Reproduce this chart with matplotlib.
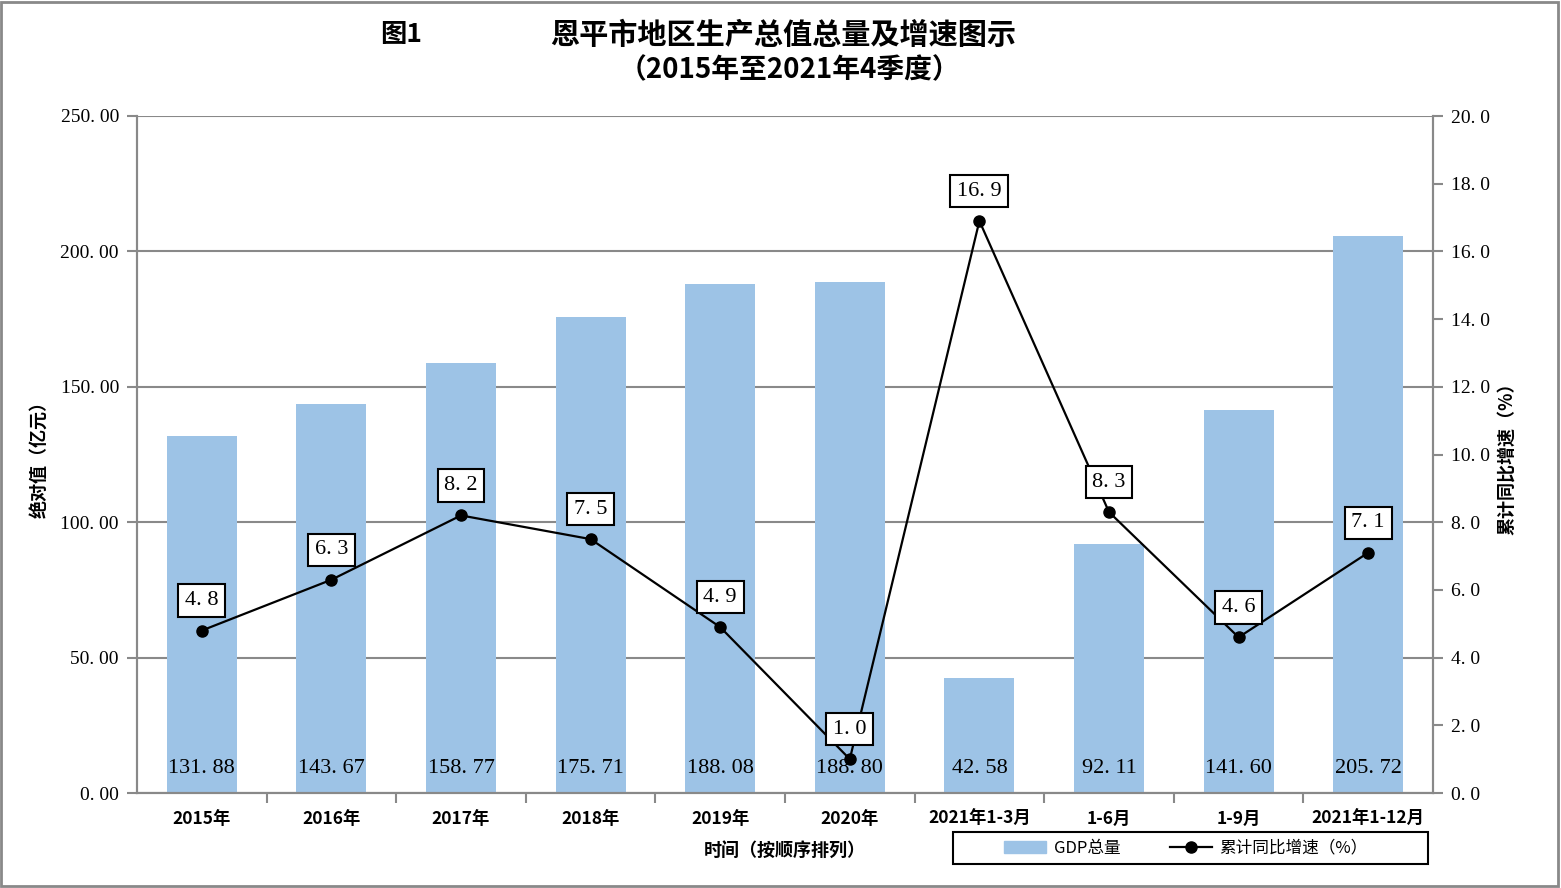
import matplotlib
matplotlib.use("Agg")
import matplotlib.pyplot as plt
from matplotlib.patches import Rectangle
from matplotlib.lines import Line2D
from matplotlib.patches import Patch
from matplotlib.transforms import offset_copy

categories = ["2015年", "2016年", "2017年", "2018年", "2019年", "2020年",
              "2021年1-3月", "1-6月", "1-9月", "2021年1-12月"]
gdp = [131.88, 143.67, 158.77, 175.71, 188.08, 188.80, 42.58, 92.11, 141.60, 205.72]
growth = [4.8, 6.3, 8.2, 7.5, 4.9, 1.0, 16.9, 8.3, 4.6, 7.1]
left_ticks = [0, 50, 100, 150, 200, 250]
right_ticks = [0, 2, 4, 6, 8, 10, 12, 14, 16, 18, 20]

CJK = ["Noto Sans CJK SC", "DejaVu Sans"]
SERIF = ["Liberation Serif", "DejaVu Serif"]
GRAY = "#898989"
BAR = "#9DC3E6"


def fmt(v, n):
    return f"{v:.{n}f}".replace(".", ". ")


fig = plt.figure(figsize=(15.61, 8.88), dpi=100)
ax = fig.add_axes([137/1561, 1-793/888, (1433-137)/1561, (793-116)/888])
ax2 = ax.twinx()

x = list(range(len(categories)))
ax.bar(x, gdp, width=0.54, color=BAR, zorder=2)
ax.set_xlim(-0.5, len(categories) - 0.5)
ax.set_ylim(0, 250)
ax.set_yticks(left_ticks)
ax.set_yticklabels([fmt(v, 2) for v in left_ticks], family=SERIF, fontsize=14)
ax.yaxis.grid(True, color=GRAY, linewidth=1.5, zorder=0)
ax.set_axisbelow(True)
ax.set_xticks(x)
ax.set_xticklabels(categories, family=CJK, fontsize=12.5, fontweight="bold")
ax.set_xticks([i + 0.5 for i in x[:-1]], minor=True)
ax.tick_params(axis="x", which="major", length=0, pad=12)
ax.tick_params(axis="x", which="minor", length=7, width=1.5, color=GRAY)
ax.tick_params(axis="y", length=7, width=1.5, color=GRAY, pad=6)
for s in ["top"]:
    ax.spines[s].set_visible(False)
    ax2.spines[s].set_visible(False)
for s in ["left", "bottom", "right"]:
    ax.spines[s].set_color(GRAY)
    ax.spines[s].set_linewidth(1.5)
    ax2.spines[s].set_color(GRAY)
    ax2.spines[s].set_linewidth(1.5)

trans = offset_copy(ax.get_xaxis_transform(), fig=fig, x=0, y=25, units="dots")
for xi, v in zip(x, gdp):
    ax.text(xi, 0, fmt(v, 2), ha="center", va="center", family=SERIF, fontsize=16,
            zorder=3, transform=trans)

ax2.set_ylim(0, 20)
ax2.set_yticks(right_ticks)
ax2.set_yticklabels([fmt(v, 1) for v in right_ticks], family=SERIF, fontsize=14)
ax2.tick_params(axis="y", length=7, width=1.5, color=GRAY, pad=6)
ax2.plot(x, growth, color="black", linewidth=1.6, marker="o", markersize=8, zorder=4)
for xi, v in zip(x, growth):
    ax2.annotate(fmt(v, 1), (xi, v), xytext=(0, 21.5), textcoords="offset points",
                 ha="center", va="center", family=SERIF, fontsize=16, zorder=5,
                 bbox=dict(boxstyle="square,pad=0.3", fc="white", ec="black", lw=1.5))

ax.set_ylabel("绝对值（亿元）", family=CJK, fontsize=13, fontweight="bold", labelpad=8.5)
ax2.set_ylabel("累计同比增速（%）", family=CJK, fontsize=13, fontweight="bold",
               rotation=90, labelpad=5)
ax.set_xlabel("时间（按顺序排列）", family=CJK, fontsize=13, fontweight="bold", labelpad=10)

fig.text(401/1561, 1-35/888, "图1", family=CJK, fontsize=19, fontweight="heavy", ha="center", va="center")
fig.text(783/1561, 1-35/888, "恩平市地区生产总值总量及增速图示", family=CJK, fontsize=21,
         fontweight="heavy", ha="center", va="center")
fig.text(789/1561, 1-70/888, "（2015年至2021年4季度）", family=CJK, fontsize=20,
         fontweight="heavy", ha="center", va="center")

handles = [Patch(color=BAR), Line2D([0], [0], color="black", lw=1.6, marker="o", markersize=8)]
leg = fig.legend(handles, ["GDP总量", "累计同比增速（%）"], loc="center",
                 bbox_to_anchor=(1186/1561, 1-848/888), ncol=2, frameon=False,
                 prop={"family": CJK, "size": 12}, borderpad=0, columnspacing=3.0,
                 handlelength=2.5, borderaxespad=0, handletextpad=0.45)
fig.add_artist(Rectangle((953/1561, 1-864/888), (1428-953)/1561, 32/888,
                         transform=fig.transFigure, fill=False, edgecolor="black",
                         linewidth=1.5))
fig.add_artist(Rectangle((1/1561, 2/888), 1557/1561, 884/888, transform=fig.transFigure,
                         fill=False, edgecolor=GRAY, linewidth=2))

fig.savefig("out.png", dpi=100)
